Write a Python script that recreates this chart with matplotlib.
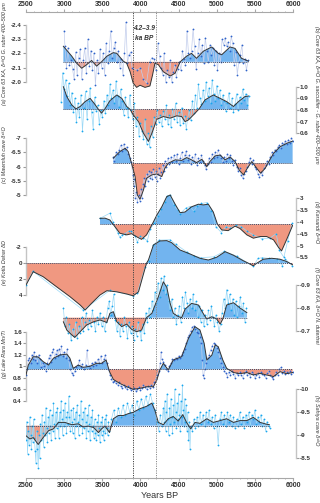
import matplotlib
matplotlib.use("Agg")
import matplotlib.pyplot as plt
import numpy as np

plt.rcParams['axes.unicode_minus'] = False
plt.rcParams['font.family'] = ['Liberation Sans', 'DejaVu Sans']

# ---------------- data ----------------
# (a) Core 63 KA d18O G. ruber 400-500 um
a_raw_x = [3000, 3010, 3030, 3050, 3070, 3090, 3110, 3130, 3150, 3170, 3190, 3210, 3230, 3250, 3270, 3290, 3310,
           3330, 3350, 3370, 3390, 3410, 3430, 3450, 3470, 3490, 3510, 3530, 3550, 3570, 3590, 3610, 3630, 3650,
           3670, 3690, 3710, 3730, 3750, 3770, 3790, 3810, 3830, 3850, 3870, 3890, 3960, 4000, 4040, 4080, 4120,
           4150, 4180, 4200, 4230, 4250, 4270, 4290, 4310, 4330, 4350, 4370, 4390, 4410, 4430, 4450, 4470, 4490,
           4510, 4530, 4550, 4570, 4590, 4610, 4630, 4650, 4670, 4690, 4710, 4730, 4750, 4770, 4790, 4810, 4830,
           4850, 4870, 4890, 4910, 4930, 4950, 4970, 4990, 5010, 5030, 5050, 5070, 5090, 5110, 5130, 5150, 5170,
           5190, 5210, 5230, 5250, 5270, 5290, 5310, 5330, 5350, 5370, 5390, 5410]
a_raw_y = [-2.36, -2.25, -2.10, -2.24, -2.12, -2.15, -2.09, -2.02, -2.21, -2.05, -2.17, -2.23, -2.02, -2.15, -2.24,
           -2.06, -2.30, -2.11, -2.22, -2.08, -2.20, -1.98, -2.15, -2.06, -2.23, -2.10, -2.20, -2.05, -2.27, -2.13,
           -2.22, -2.36, -2.17, -2.24, -2.28, -2.14, -2.22, -2.10, -2.16, -2.05, -2.20, -2.42, -2.13, -2.19, -2.21,
           -2.10, -2.08, -2.10, -2.02, -1.99, -2.14, -2.17, -2.16, -2.08, -2.27, -2.18, -2.10, -2.05, -2.20, -2.00,
           -2.08, -2.03, -2.15, -2.00, -2.07, -2.12, -2.03, -2.09, -2.14, -2.08, -2.22, -2.16, -2.12, -2.36, -2.20,
           -2.17, -2.22, -2.37, -2.25, -2.09, -2.20, -2.30, -2.18, -2.26, -2.13, -2.31, -2.22, -2.14, -2.26, -2.19,
           -2.24, -2.12, -2.22, -2.08, -2.20, -2.14, -2.30, -2.26, -2.31, -2.25, -2.28, -2.22, -2.32, -2.27, -2.12,
           -2.21, -2.05, -2.14, -2.19, -2.26, -2.13, -2.16, -2.08, -2.15]
a_sm_x = [2990, 3100, 3165, 3230, 3295, 3360, 3425, 3490, 3560, 3645, 3690, 3775, 3820, 3865, 3905, 3950, 3995,
          4060, 4125, 4160, 4190, 4235, 4300, 4390, 4455, 4520, 4605, 4670, 4735, 4825, 4935, 5020, 5065, 5175,
          5240, 5325, 5415]
a_sm_y = [-2.25, -2.18, -2.13, -2.095, -2.12, -2.15, -2.11, -2.14, -2.18, -2.205, -2.20, -2.145, -2.13, -2.07,
          -1.99, -1.96, -1.975, -1.96, -1.97, -2.05, -2.13, -2.12, -2.07, -2.04, -2.06, -2.14, -2.18, -2.20, -2.165,
          -2.215, -2.245, -2.20, -2.19, -2.245, -2.235, -2.165, -2.145]
a_base = -2.14

# (b) Core 63 KA d18O G. sacculifer - G. ruber
b_raw_x = list(range(2960, 5421, 20))
b_raw_y = [0.87, 1.12, 0.98, 1.06, 0.92, 1.03, 0.84, 0.95, 0.78, 0.90, 0.70, 0.86, 0.74, 0.93, 0.62, 0.82, 0.96,
           0.72, 0.88, 0.99, 0.78, 0.64, 0.91, 0.79, 0.84, 0.68, 0.80, 0.74, 0.88, 0.77, 0.93, 0.84, 1.02, 0.90,
           0.97, 0.86, 1.05, 0.92, 0.83, 0.98, 0.88, 0.76, 0.91, 0.82, 0.74, 0.93, 0.80, 0.72, 0.86, 0.66, 0.74,
           0.58, 0.69, 0.62, 0.55, 0.72, 0.51, 0.60, 0.48, 0.66, 0.57, 0.74, 0.68, 0.80, 0.70, 0.76, 0.66, 0.79,
           0.72, 0.84, 0.68, 0.76, 0.65, 0.81, 0.72, 0.86, 0.70, 0.78, 0.67, 0.82, 0.69, 0.75, 0.64, 0.73, 0.80,
           0.71, 0.88, 0.77, 0.93, 0.82, 1.02, 0.90, 0.85, 0.97, 0.88, 1.04, 0.92, 0.99, 0.86, 1.06, 0.94, 0.88,
           1.01, 0.90, 0.97, 0.84, 0.93, 0.88, 0.79, 0.86, 0.95, 0.82, 0.90, 0.78, 0.85, 0.94, 0.80, 0.91, 0.86,
           0.98, 0.89, 0.94, 0.84, 0.92]
b_sm_x = [2990, 3035, 3100, 3155, 3210, 3275, 3340, 3390, 3450, 3490, 3535, 3600, 3690, 3755, 3820, 3865, 3905,
          3975, 4040, 4105, 4150, 4215, 4300, 4390, 4475, 4540, 4585, 4630, 4695, 4770, 4845, 4955, 5045, 5130,
          5220, 5285, 5370, 5415]
b_sm_y = [1.0, 0.915, 0.843, 0.81, 0.83, 0.872, 0.90, 0.86, 0.805, 0.773, 0.81, 0.88, 0.929, 0.90, 0.83, 0.805,
          0.758, 0.70, 0.60, 0.53, 0.60, 0.72, 0.744, 0.73, 0.75, 0.744, 0.70, 0.715, 0.758, 0.81, 0.886, 0.929,
          0.90, 0.872, 0.83, 0.872, 0.915, 0.92]
b_base = 0.805

# (c) Mawmluh cave d18O
c_raw_x = [3645, 3660, 3680, 3700, 3720, 3740, 3760, 3780, 3800, 3820, 3840, 3860, 3880, 3900, 3910, 3920, 3930,
           3945, 3960, 3975, 3990, 4005, 4020, 4035, 4050, 4065, 4080, 4095, 4110, 4125, 4140, 4155, 4170, 4185,
           4200, 4215, 4230, 4245, 4260, 4275, 4290, 4305, 4320, 4340, 4360, 4380, 4400, 4420, 4440, 4460, 4480,
           4500, 4520, 4540, 4560, 4580, 4600, 4620, 4640, 4660, 4680, 4700, 4720, 4740, 4760, 4780, 4800, 4820,
           4840, 4860, 4880, 4900, 4920, 4940, 4960, 4980, 5000, 5020, 5040, 5060, 5080, 5100, 5120, 5140, 5160,
           5180, 5200, 5220, 5240, 5260, 5280, 5300, 5320, 5340, 5360, 5380, 5400, 5420, 5440, 5460, 5480, 5500,
           5520, 5540, 5560, 5580, 5600, 5620, 5640, 5660, 5680, 5700, 5720, 5740, 5760, 5780, 5800, 5820, 5840,
           5860, 5880, 5900, 5920, 5940, 5960, 5980, 6000]
c_raw_y = [-6.35, -6.2, -6.5, -6.45, -6.6, -6.75, -6.55, -6.8, -6.62, -6.7, -6.45, -6.3, -6.15, -5.7, -5.3, -5.55,
           -4.9, -5.1, -4.75, -5.0, -4.8, -5.2, -4.9, -5.4, -5.6, -5.3, -5.75, -5.5, -5.85, -5.6, -5.8, -5.55, -5.9,
           -5.65, -5.85, -5.5, -5.75, -5.95, -5.6, -5.8, -6.05, -5.85, -6.2, -6.0, -6.3, -6.1, -6.35, -6.15, -6.4,
           -6.2, -6.45, -6.1, -6.3, -6.5, -6.2, -6.4, -6.55, -6.25, -6.4, -6.1, -6.35, -6.2, -6.45, -6.05, -6.3,
           -6.15, -6.4, -6.2, -6.05, -5.9, -6.1, -6.3, -6.15, -6.45, -6.3, -6.5, -6.35, -6.6, -6.4, -6.3, -6.15,
           -6.35, -6.2, -6.45, -6.3, -6.4, -6.2, -6.05, -6.25, -6.0, -5.85, -5.95, -5.7, -5.6, -5.75, -5.85, -6.0,
           -6.15, -6.3, -6.1, -6.25, -6.0, -5.9, -5.75, -5.65, -5.8, -5.7, -5.95, -6.05, -6.2, -6.1, -6.35, -6.5,
           -6.4, -6.6, -6.55, -6.7, -6.75, -6.65, -6.85, -6.8, -6.9, -6.8, -6.95, -6.85, -7.0, -6.9]
c_sm_x = [3645, 3730, 3800, 3840, 3885, 3930, 3960, 3995, 4040, 4080, 4150, 4215, 4280, 4320, 4365, 4455, 4540,
          4605, 4670, 4735, 4805, 4870, 4910, 4980, 5045, 5110, 5175, 5240, 5295, 5350, 5400, 5460, 5525, 5575,
          5635, 5675, 5745, 5830, 5915, 5995]
c_sm_y = [-6.30, -6.53, -6.65, -6.53, -6.1, -5.65, -5.0, -4.85, -5.18, -5.59, -5.71, -5.74, -5.65, -5.94, -6.12,
          -6.24, -6.22, -6.32, -6.24, -6.14, -6.26, -6.0, -6.18, -6.38, -6.41, -6.24, -6.34, -6.18, -5.88, -5.71,
          -5.94, -6.18, -5.94, -5.77, -5.94, -6.14, -6.47, -6.70, -6.82, -6.90]
c_base = -6.12

# (d) Karsandi d18O
d_raw_x = [3470, 3600, 3640, 3700, 3730, 3760, 3800, 3850, 3880, 3930, 3960, 4000, 4040, 4090, 4130, 4180, 4230,
           4270, 4320, 4350, 4390, 4440, 4490, 4520, 4600, 4650, 4700, 4740, 4800, 4870, 4930, 4990, 5060, 5120,
           5180, 5250, 5320, 5400, 5480, 5600, 5700, 5780, 5820, 5880, 5930, 5990]
d_raw_y = [3.85, 3.63, 4.0, 4.45, 4.65, 4.55, 4.5, 4.38, 4.4, 4.6, 4.85, 4.6, 4.68, 4.8, 4.3, 4.05, 3.75, 3.45,
           3.15, 2.9, 2.88, 3.3, 3.5, 3.65, 3.4, 3.35, 3.55, 3.33, 3.22, 3.18, 3.55, 4.2, 4.45, 4.2, 4.25, 4.15,
           4.2, 4.4, 4.55, 4.72, 4.68, 4.5, 5.2, 5.5, 4.8, 4.05]
d_sm_x = [3470, 3535, 3600, 3665, 3730, 3820, 3885, 3950, 4015, 4080, 4150, 4215, 4280, 4345, 4390, 4455, 4520,
          4585, 4670, 4760, 4825, 4890, 4955, 5010, 5065, 5150, 5240, 5305, 5395, 5480, 5570, 5655, 5745, 5810,
          5850, 5915, 5995]
d_sm_y = [3.85, 3.84, 3.92, 4.2, 4.48, 4.55, 4.5, 4.63, 4.74, 4.55, 4.13, 3.71, 3.36, 2.93, 2.86, 3.25, 3.61,
          3.58, 3.36, 3.25, 3.28, 3.25, 3.58, 4.1, 4.34, 4.37, 4.18, 4.28, 4.55, 4.69, 4.62, 4.62, 4.76, 5.08,
          5.23, 4.76, 4.15]
d_base = 4.1

# (e) Kotla Dahar dD
e_raw_x = [2500, 2590, 3250, 3600, 3900, 3960, 4060, 4110, 4170, 4240, 4390, 4460, 4610, 4700, 4800, 4960, 5100,
           5260, 5480, 5540, 5600, 5690, 5790, 5860, 5900, 5990]
e_raw_y = [2.7, 1.0, 5.9, 3.4, 4.1, 3.7, 0.5, -0.3, -2.3, -2.9, -2.95, -2.4, -1.4, -0.9, -0.7, -0.8, -1.5, -0.9,
           0.4, -0.6, -0.7, -0.6, -0.5, 0.3, -0.5, 0.3]
e_sm_x = [2500, 2595, 2725, 2900, 3075, 3210, 3275, 3360, 3470, 3560, 3690, 3820, 3905, 3975, 4030, 4080, 4105,
          4170, 4255, 4345, 4410, 4520, 4650, 4780, 4890, 5000, 5110, 5220, 5350, 5415, 5480, 5525, 5610, 5720,
          5830, 5915, 5995]
e_sm_y = [2.74, 1.07, 1.7, 2.96, 4.2, 5.26, 5.89, 5.04, 4.0, 3.46, 3.6, 3.87, 4.1, 3.6, 1.7, 0.0, -0.4, -2.29,
          -2.8, -2.84, -2.58, -1.66, -1.16, -0.62, -0.4, -0.75, -1.45, -1.0, -0.3, 0.0, 0.33, 0.0, -0.5, -0.62,
          -0.5, -0.22, 0.2]
e_base = 0.0

# (f) Core 63 KA d18O N. dutertrei
f_raw_x = list(range(2990, 5391, 20))
f_raw_y = [-0.80, -0.72, -0.76, -0.69, -0.73, -0.66, -0.71, -0.68, -0.74, -0.67, -0.72, -0.69, -0.76, -0.70,
           -0.74, -0.78, -0.71, -0.75, -0.72, -0.79, -0.74, -0.70, -0.76, -0.73, -0.78, -0.72, -0.76, -0.70,
           -0.74, -0.80, -0.83, -0.77, -0.81, -0.86, -0.75, -0.70, -0.74, -0.68, -0.73, -0.70, -0.76, -0.72,
           -0.67, -0.74, -0.69, -0.72, -0.66, -0.71, -0.68, -0.74, -0.70, -0.66, -0.73, -0.69, -0.78, -0.74,
           -0.80, -0.76, -0.83, -0.79, -0.87, -0.82, -0.91, -0.85, -0.93, -0.88, -0.94, -0.86, -0.90, -0.83,
           -0.79, -0.84, -0.76, -0.80, -0.73, -0.77, -0.81, -0.74, -0.85, -0.80, -0.87, -0.82, -0.78, -0.84,
           -0.80, -0.86, -0.79, -0.83, -0.76, -0.81, -0.74, -0.79, -0.72, -0.77, -0.73, -0.79, -0.75, -0.81,
           -0.76, -0.72, -0.77, -0.74, -0.70, -0.73, -0.78, -0.84, -0.80, -0.88, -0.82, -0.86, -0.79, -0.84,
           -0.77, -0.83, -0.76, -0.81, -0.85, -0.78, -0.82, -0.74, -0.80]
f_sm_x = [2990, 3035, 3100, 3140, 3210, 3295, 3385, 3470, 3560, 3600, 3645, 3690, 3755, 3820, 3885, 3950, 4015,
          4080, 4150, 4235, 4300, 4345, 4390, 4430, 4495, 4540, 4585, 4670, 4760, 4825, 4870, 4935, 5000, 5045,
          5080, 5130, 5220, 5305, 5395]
f_sm_y = [-0.74, -0.704, -0.683, -0.672, -0.697, -0.726, -0.74, -0.748, -0.737, -0.777, -0.784, -0.74, -0.719,
          -0.73, -0.707, -0.697, -0.704, -0.758, -0.777, -0.849, -0.914, -0.89, -0.82, -0.777, -0.763, -0.758,
          -0.795, -0.82, -0.813, -0.775, -0.752, -0.762, -0.752, -0.73, -0.752, -0.813, -0.823, -0.80, -0.78]
f_base = -0.758

# (g) Lake Rara Mn/Ti
g_raw_x = [2500, 2515, 2530, 2545, 2560, 2575, 2590, 2605, 2620, 2635, 2650, 2665, 2680, 2700, 2720, 2740, 2760,
           2780, 2800, 2815, 2830, 2845, 2860, 2875, 2890, 2905, 2920, 2935, 2950, 2965, 2980, 3000, 3020, 3040,
           3060, 3080, 3100, 3120, 3140, 3160, 3180, 3200, 3220, 3240, 3260, 3280, 3300, 3320, 3340, 3360, 3380,
           3400, 3420, 3440, 3460, 3480, 3500, 3520, 3540, 3560, 3580, 3600, 3620, 3640, 3660, 3680, 3700, 3720,
           3740, 3760, 3780, 3800, 3820, 3840, 3860, 3880, 3900, 3920, 3940, 3960, 3980, 4000, 4020, 4040, 4060,
           4080, 4100, 4120, 4140, 4160, 4180, 4200, 4220, 4240, 4260, 4270, 4280, 4300, 4320, 4340, 4360, 4380,
           4400, 4420, 4440, 4460, 4480, 4500, 4520, 4540, 4560, 4580, 4600, 4620, 4640, 4660, 4680, 4700, 4720,
           4740, 4760, 4780, 4800, 4810, 4820, 4830, 4840, 4860, 4880, 4900, 4920, 4940, 4960, 4980, 5000, 5020,
           5040, 5060, 5080, 5100, 5120, 5140, 5160, 5180, 5200, 5220, 5240, 5260, 5280, 5300, 5320, 5340, 5360,
           5380, 5400, 5420, 5440, 5460, 5480, 5500, 5520, 5540, 5560, 5580, 5600, 5620, 5640, 5660, 5680, 5700,
           5720, 5740, 5760, 5780, 5800, 5820, 5840, 5860, 5880, 5900, 5920, 5940, 5960, 5980, 6000]
g_raw_y = [0.85, 0.95, 1.1, 1.15, 1.05, 1.2, 1.12, 1.25, 1.1, 1.18, 1.05, 1.2, 1.12, 0.98, 1.05, 1.0, 0.92, 1.05,
           1.15, 1.2, 1.08, 1.25, 1.3, 1.15, 1.22, 1.28, 1.18, 1.3, 1.22, 1.35, 1.18, 1.25, 1.15, 1.3, 1.1, 0.95,
           0.88, 0.85, 0.92, 0.98, 1.02, 1.1, 0.98, 1.04, 0.95, 1.02, 1.28, 1.0, 0.97, 1.05, 1.0, 1.08, 1.02, 1.12,
           1.05, 1.18, 1.05, 1.12, 1.2, 1.05, 0.95, 0.85, 0.78, 0.72, 0.75, 0.7, 0.68, 0.72, 0.65, 0.62, 0.68,
           0.64, 0.6, 0.66, 0.62, 0.58, 0.6, 0.62, 0.57, 0.6, 0.64, 0.59, 0.62, 0.68, 0.63, 0.6, 0.65, 0.62, 0.68,
           0.64, 0.72, 0.78, 0.85, 0.92, 1.05, 1.25, 1.12, 1.08, 1.02, 0.95, 0.92, 1.0, 1.05, 1.12, 1.1, 1.15,
           1.12, 1.18, 1.15, 1.2, 1.25, 1.3, 1.4, 1.5, 1.55, 1.62, 1.68, 1.7, 1.65, 1.6, 1.58, 1.5, 1.4, 1.1, 0.85,
           0.8, 0.95, 1.05, 1.15, 1.2, 1.28, 1.35, 1.4, 1.38, 1.32, 1.25, 1.15, 1.05, 0.98, 0.92, 0.88, 0.82, 0.9,
           0.85, 0.92, 0.86, 0.8, 0.88, 0.84, 0.9, 0.85, 0.8, 0.88, 0.92, 0.84, 0.88, 0.82, 0.9, 0.86, 0.8, 0.84,
           0.88, 0.82, 0.9, 0.86, 0.84, 0.8, 0.88, 0.92, 0.85, 0.82, 0.78, 0.84, 0.9, 0.85, 0.95, 0.98, 0.88, 0.92,
           0.86, 0.9, 0.88, 0.92, 0.86, 0.9]
g_sm_x = [2500, 2530, 2595, 2660, 2725, 2795, 2860, 2945, 3035, 3075, 3120, 3185, 3250, 3340, 3425, 3490, 3550,
          3595, 3645, 3730, 3820, 3905, 3995, 4080, 4170, 4215, 4255, 4300, 4365, 4430, 4540, 4630, 4715, 4780,
          4835, 4870, 4935, 4980, 5020, 5080, 5130, 5220, 5305, 5395, 5480, 5570, 5655, 5745, 5830, 5915, 5995]
g_sm_y = [0.847, 1.02, 1.165, 1.16, 1.08, 1.02, 1.14, 1.195, 1.21, 1.14, 0.963, 1.02, 0.98, 1.0, 1.05, 1.05,
          1.108, 0.905, 0.77, 0.70, 0.643, 0.598, 0.615, 0.643, 0.643, 0.76, 0.934, 1.05, 0.934, 1.108, 1.165,
          1.485, 1.687, 1.63, 1.40, 1.108, 1.19, 1.37, 1.34, 1.108, 0.963, 0.89, 0.87, 0.89, 0.847, 0.876, 0.847,
          0.82, 0.905, 0.87, 0.89]
g_base = 0.946

# (h) Sahiya cave d18O
h_raw_x = list(range(2500, 3591, 10)) + [3620, 3650, 3680, 3710, 3740, 3770, 3800, 3830, 3860, 3890, 3920, 3950,
           3980, 4010, 4040, 4070, 4100, 4130, 4160, 4190, 4220, 4240, 4260, 4280] + list(range(4300, 4661, 10)) + \
          list(range(4680, 5701, 20))
h_raw_y = [-8.9, -9.3, -8.6, -9.1, -8.8, -9.4, -9.0, -8.7, -9.2, -8.85, -9.35, -8.95, -8.65, -8.4, -9.1, -8.7,
           -8.3, -9.0, -8.5, -9.25, -8.9, -9.45, -9.05, -8.75, -9.3, -9.0, -9.6, -9.15, -8.85, -9.4, -9.05, -9.55,
           -9.2, -8.9, -9.45, -9.1, -9.7, -9.25, -8.95, -9.5, -9.15, -9.6, -9.3, -8.95, -9.5, -9.2, -9.75, -9.35,
           -9.0, -9.55, -9.2, -9.7, -9.4, -9.05, -9.5, -9.25, -9.85, -9.4, -9.1, -9.55, -9.3, -9.05, -9.6, -9.35,
           -8.95, -9.5, -9.2, -9.65, -9.3, -9.0, -9.45, -9.2, -9.75, -9.35, -9.05, -9.5, -9.15, -9.6, -9.3, -8.95,
           -9.45, -9.1, -9.65, -9.25, -8.9, -9.4, -9.1, -9.55, -9.2, -8.95, -9.35, -9.05, -8.9, -9.3, -9.0, -9.45,
           -9.15, -8.85, -9.3, -9.0, -9.4, -9.1, -8.9, -9.35, -9.05, -9.45, -9.15, -9.0, -9.3, -9.1,
           -9.35, -9.55, -9.3, -9.6, -9.4, -9.65, -9.45, -9.7, -9.5, -9.65, -9.45, -9.75, -9.55, -9.8, -9.6, -9.85,
           -9.65, -9.9, -9.7, -9.55, -9.3, -9.1, -9.45, -9.2,
           -9.6, -9.3, -9.75, -9.1, -9.5, -9.9, -9.35, -9.0, -9.6, -9.25, -9.8, -9.4, -9.05, -9.65, -9.3, -10.0,
           -9.5, -9.15, -9.7, -9.35, -9.9, -9.45, -9.1, -9.75, -9.4, -10.1, -9.55, -9.2, -9.8, -9.3, -9.65, -9.1,
           -9.5, -8.9, -9.3, -8.7, -9.2,
           -9.1, -9.35, -9.15, -9.4, -9.2, -9.5, -9.25, -9.45, -9.2, -9.5, -9.3, -9.55, -9.25, -9.4, -9.15, -9.45,
           -9.2, -8.8, -9.35, -9.5, -9.25, -9.45, -9.2, -9.5, -9.3, -9.45, -9.2, -9.4, -9.15, -9.35, -9.2, -9.5,
           -9.25, -9.4, -9.15, -9.45, -9.3, -9.5, -9.2, -9.45, -9.35, -9.55, -9.25, -9.4, -9.3, -9.45, -9.2, -9.35,
           -9.1, -9.3, -9.2, -9.15]
h_sm_x = [2500, 2550, 2595, 2660, 2725, 2795, 2860, 2925, 3010, 3100, 3185, 3250, 3315, 3385, 3450, 3490, 3535,
          3595, 3645, 3710, 3775, 3840, 3905, 3995, 4080, 4150, 4190, 4235, 4300, 4365, 4430, 4495, 4555, 4605,
          4660, 4715, 4780, 4870, 4955, 5045, 5130, 5220, 5305, 5395, 5480, 5570, 5655, 5690]
h_sm_y = [-8.99, -8.92, -8.95, -8.8, -8.95, -9.1, -9.14, -9.28, -9.28, -9.23, -9.25, -9.18, -9.2, -9.17, -9.06,
          -9.14, -9.2, -9.06, -9.36, -9.43, -9.43, -9.47, -9.5, -9.58, -9.63, -9.70, -9.54, -9.28, -9.23, -9.36,
          -9.41, -9.31, -9.45, -9.28, -9.14, -9.28, -9.26, -9.36, -9.28, -9.32, -9.36, -9.28, -9.32, -9.32, -9.39,
          -9.28, -9.24, -9.23]
h_base = -9.21

labels = {
    'a': '(a) Core 63 KA, δ¹⁸O G. ruber 400–500 μm',
    'b': '(b) Core 63 KA, δ¹⁸O G. sacculifer - G. ruber 400–500 μm',
    'c': '(c) Mawmluh cave δ¹⁸O',
    'd': '(d) Karsandi δ¹⁸O',
    'e': '(e) Kotla Dahar δD',
    'f': '(f) Core 63 KA, δ¹⁸O N. dutertrei',
    'g': '(g) Lake Rara Mn/Ti',
    'h': '(h) Sahiya cave δ¹⁸O',
}
a_ticks = [-2.4, -2.3, -2.2, -2.1, -2.0]
b_ticks = [1.0, 0.9, 0.8, 0.7, 0.6]
c_ticks = [-7, -6.5, -6, -5.5, -5]
d_ticks = [3, 3.5, 4, 4.5, 5, 5.5]
e_ticks = [-2, 0, 2, 4]
f_ticks = [-0.9, -0.8, -0.7]
g_ticks = [1.6, 1.4, 1.2, 1, 0.8, 0.6, 0.4]
h_ticks = [-10, -9.5, -9, -8.5]
x_ticks = [2500, 3000, 3500, 4000, 4500, 5000, 5500, 6000]

# ---------------- layout (pixels of a 320x503 image) ----------------
W, H = 320, 503
PX_L, PX_R, PX_T, PX_B = 26, 293, 12, 478
BLUE = '#63acee'
ORANGE = '#f0937a'
rect = [PX_L / W, 1 - PX_B / H, (PX_R - PX_L) / W, (PX_B - PX_T) / H]

fig = plt.figure(figsize=(W / 100, H / 100), dpi=100)
ax0 = fig.add_axes(rect)
ax0.set_xlim(2500, 6000)
ax0.set_ylim(0, 1)
ax0.patch.set_visible(False)
ax0.set_zorder(10)
for s in ['left', 'right']:
    ax0.spines[s].set_visible(False)
for s in ['top', 'bottom']:
    ax0.spines[s].set_color('#a8a8a8')
    ax0.spines[s].set_linewidth(0.8)
ax0.set_yticks([])
ax0.set_xticks(x_ticks)
ax0.set_xticks(np.arange(2500, 6001, 100), minor=True)
ax0.tick_params(axis='x', which='both', top=True, labeltop=True, labelsize=5, length=2,
                color='#a8a8a8', labelcolor='#333333', pad=1)
ax0.tick_params(axis='x', which='minor', length=1)
for lab in ax0.get_xticklabels():
    lab.set_fontweight('bold')
ax0.set_xlabel('Years BP', fontsize=6.5, color='#333333', labelpad=1.5)
ax0.axvline(3900, ls=(0, (1.2, 1.2)), color='#444444', lw=0.7)
ax0.axvline(4200, ls=(0, (1.2, 1.2)), color='#8a8a8a', lw=0.7)
ax0.text(4050, 1 - (33 - PX_T) / (PX_B - PX_T), '4.2–3.9\nka BP', fontsize=4.8, fontweight='bold',
         style='italic', ha='center', va='center', color='#333333', linespacing=1.6)


def make_panel(v1, p1, v2, p2, side):
    ax = fig.add_axes(rect, sharex=ax0)
    ax.patch.set_visible(False)
    slope = (v2 - v1) / (p2 - p1)
    ax.set_ylim(v1 + (PX_B - p1) * slope, v1 + (PX_T - p1) * slope)
    for s in ax.spines:
        ax.spines[s].set_visible(False)
    ax.spines[side].set_visible(True)
    ax.spines[side].set_color('#c4c4c4')
    ax.spines[side].set_linewidth(1.0)
    if side == 'right':
        ax.yaxis.tick_right()
        ax.spines['right'].set_position(('outward', 2))
    ax.tick_params(axis='x', which='both', bottom=False, top=False, labelbottom=False, labeltop=False)
    ax.tick_params(axis='y', labelsize=4.5, length=2, color='#9a9a9a', labelcolor='#333333', pad=1)
    return ax


def draw(ax, rx, ry, sx, sy, base, inverted, mcolor, lcolor, ticks, fmt):
    ax.plot(rx, ry, color=lcolor, lw=0.5, zorder=2)
    ax.plot(rx, ry, ls='none', marker='o', ms=1.3, mew=0, color=mcolor, zorder=3)
    sx = np.asarray(sx, float)
    sy = np.asarray(sy, float)
    up = sy < base if inverted else sy > base
    ax.fill_between(sx, sy, base, where=up, interpolate=True, color=BLUE, alpha=0.9, lw=0, zorder=1)
    ax.fill_between(sx, sy, base, where=~up, interpolate=True, color=ORANGE, alpha=0.95, lw=0, zorder=1)
    ax.plot(sx, sy, color='#333333', lw=0.7, zorder=4)
    ax.plot([sx[0], sx[-1]], [base, base], ls=(0, (1, 1)), color='#3c4a66', lw=0.7, zorder=4)
    ax.set_yticks(ticks)
    ax.set_yticklabels([fmt % t for t in ticks])
    for lab in ax.get_yticklabels():
        lab.set_fontweight('bold')
    ax.spines['left' if ax.spines['left'].get_visible() else 'right'].set_bounds(min(ticks), max(ticks))


DARK_M, DARK_L = '#2f62c9', '#c2cdec'
CYAN_M, CYAN_L = '#18a6ee', '#9ad8f6'

ax_a = make_panel(-2.4, 25, -2.0, 81.7, 'left')
draw(ax_a, a_raw_x, a_raw_y, a_sm_x, a_sm_y, a_base, True, DARK_M, DARK_L, a_ticks, '%.1f')
ax_b = make_panel(1.0, 86.7, 0.6, 133.3, 'right')
draw(ax_b, b_raw_x, b_raw_y, b_sm_x, b_sm_y, b_base, False, CYAN_M, CYAN_L, b_ticks, '%.1f')
ax_c = make_panel(-7, 138.3, -5, 195, 'left')
draw(ax_c, c_raw_x, c_raw_y, c_sm_x, c_sm_y, c_base, True, DARK_M, DARK_L, c_ticks, '%g')
ax_d = make_panel(3, 198.3, 5.5, 257.3, 'right')
draw(ax_d, d_raw_x, d_raw_y, d_sm_x, d_sm_y, d_base, True, CYAN_M, CYAN_L, d_ticks, '%g')
ax_e = make_panel(-2, 247.3, 4, 295, 'left')
draw(ax_e, e_raw_x, e_raw_y, e_sm_x, e_sm_y, e_base, True, CYAN_M, CYAN_L, e_ticks, '%g')
ax_f = make_panel(-0.9, 285, -0.7, 331, 'right')
draw(ax_f, f_raw_x, f_raw_y, f_sm_x, f_sm_y, f_base, True, CYAN_M, CYAN_L, f_ticks, '%.1f')
ax_g = make_panel(1.6, 331.7, 0.4, 400.7, 'left')
draw(ax_g, g_raw_x, g_raw_y, g_sm_x, g_sm_y, g_base, False, DARK_M, DARK_L, g_ticks, '%g')
ax_h = make_panel(-10, 389.3, -8.5, 458.3, 'right')
draw(ax_h, h_raw_x, h_raw_y, h_sm_x, h_sm_y, h_base, True, CYAN_M, CYAN_L, h_ticks, '%g')

# panel titles along the sides
for key, py, px, rot in [('a', 54, 5, 90), ('c', 155, 5, 90), ('e', 263, 5, 90), ('g', 354, 5, 90),
                         ('b', 95, 316.5, 270), ('d', 222, 316.5, 270), ('f', 305, 316.5, 270),
                         ('h', 420, 316.5, 270)]:
    fig.text(px / W, 1 - py / H, labels[key], rotation=rot, fontsize=3.9, style='italic',
             color='#333333', ha='center', va='center')

fig.savefig('out.png', dpi=100)
